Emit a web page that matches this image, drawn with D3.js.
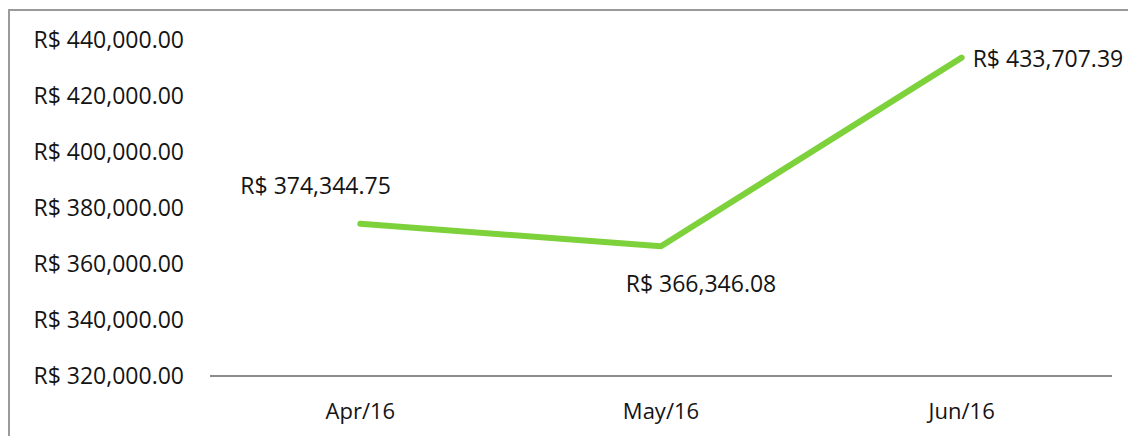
<!DOCTYPE html>
<html>
<head>
<meta charset="utf-8">
<script src="https://cdn.jsdelivr.net/npm/d3@7"></script>
<style>
  body { margin: 0; background: #fff; }
  svg text { font-family: "Open Sans", sans-serif; font-size: 23px; fill: #141414; }
  svg text.xtick { font-size: 22px; }
</style>
</head>
<body>
<div id="chart"></div>
<script>
const months = ["Apr/16", "May/16", "Jun/16"];
const revenue = [374344.75, 366346.08, 433707.39];
const yTicks = [320000, 340000, 360000, 380000, 400000, 420000, 440000];

const width = 1128;
const height = 436;

const svg = d3.select("#chart").append("svg")
  .attr("width", width)
  .attr("height", height);

// outer frame (only top and left edges visible)
svg.append("path")
  .attr("d", `M9,${height} V10 H${width}`)
  .attr("fill", "none")
  .attr("stroke", "#9a9a9a")
  .attr("stroke-width", 2);

const x = d3.scaleBand().domain(months).range([210, 1112]);
const y = d3.scaleLinear().domain([320000, 440000]).range([376, 40]);

const money = v => "R$ " + d3.format(",.2f")(v);

svg.append("line")
  .attr("x1", 210).attr("x2", 1112)
  .attr("y1", y(320000)).attr("y2", y(320000))
  .attr("stroke", "#8c8c8c")
  .attr("stroke-width", 2);

svg.selectAll(".ytick")
  .data(yTicks)
  .join("text")
  .attr("class", "ytick")
  .attr("x", 184)
  .attr("y", d => y(d))
  .attr("dy", "0.35em")
  .attr("text-anchor", "end")
  .text(money);

svg.selectAll(".xtick")
  .data(months)
  .join("text")
  .attr("class", "xtick")
  .attr("x", d => x(d) + x.bandwidth() / 2)
  .attr("y", 411)
  .attr("dy", "0.35em")
  .attr("text-anchor", "middle")
  .text(d => d);

const line = d3.line()
  .x((d, i) => x(months[i]) + x.bandwidth() / 2)
  .y(d => y(d));

svg.append("path")
  .datum(revenue)
  .attr("d", line)
  .attr("fill", "none")
  .attr("stroke", "#7dd13b")
  .attr("stroke-width", 6)
  .attr("stroke-linecap", "round")
  .attr("stroke-linejoin", "round");

// data labels: offsets relative to each point
const labelOffsets = [[-120, -38, "start"], [40, 38, "middle"], [11, 1, "start"]];
svg.selectAll(".dlabel")
  .data(revenue)
  .join("text")
  .attr("class", "dlabel")
  .attr("x", (d, i) => x(months[i]) + x.bandwidth() / 2 + labelOffsets[i][0])
  .attr("y", (d, i) => y(d) + labelOffsets[i][1])
  .attr("dy", "0.35em")
  .attr("text-anchor", (d, i) => labelOffsets[i][2])
  .text(money);
</script>
</body>
</html>
